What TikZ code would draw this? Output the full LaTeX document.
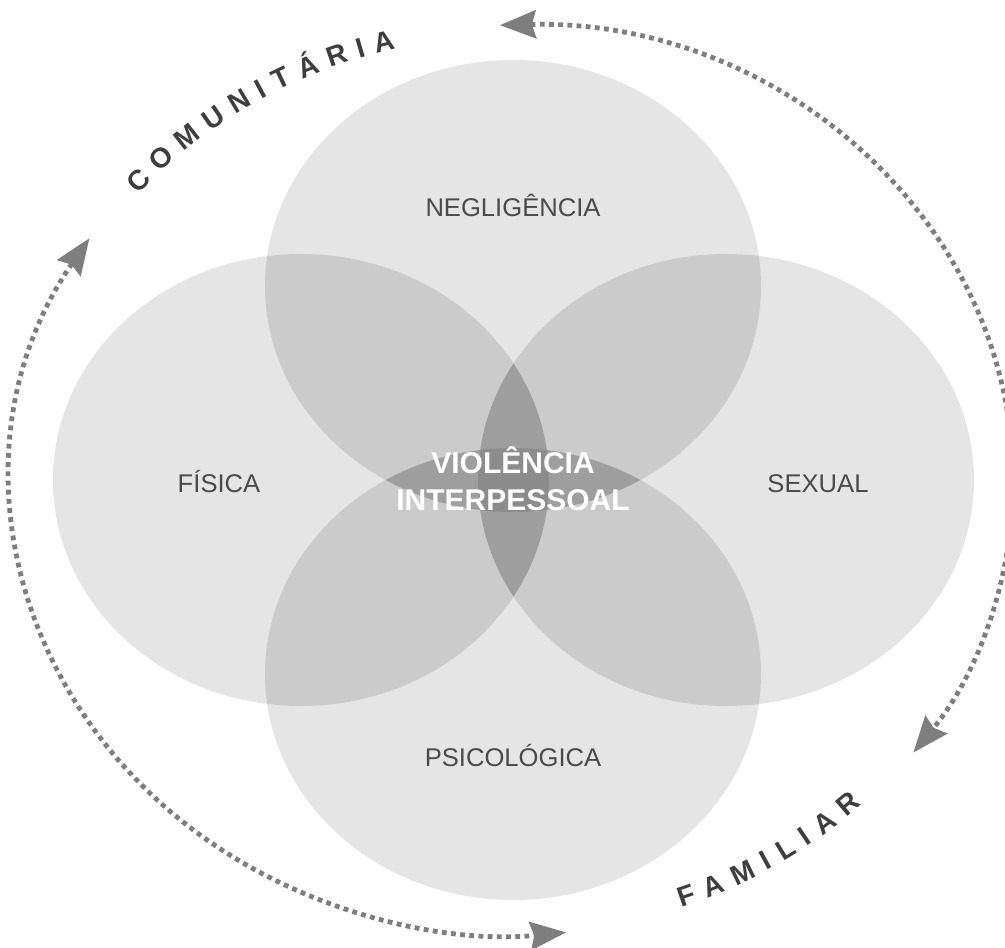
\documentclass[tikz,border=0pt]{standalone}
\usepackage{fontspec}
\setmainfont{Liberation Sans}
\usetikzlibrary{arrows.meta,decorations.text}
\definecolor{cone}{HTML}{E5E5E5}
\definecolor{ctwo}{HTML}{CBCBCB}
\definecolor{cthree}{HTML}{9E9E9E}
\definecolor{cfour}{HTML}{8C8C8C}
\definecolor{labelc}{HTML}{4A4A4A}
\definecolor{arcc}{HTML}{3E3E3E}
\definecolor{dotc}{HTML}{7E7E7E}
\newcommand\myarcfont{\bfseries\fontsize{14}{16}\selectfont}
\def\ETop{(0,194) ellipse [x radius=248, y radius=226]}
\def\EBot{(0,-194) ellipse [x radius=248, y radius=226]}
\def\ELft{(-212,0) ellipse [x radius=248, y radius=226]}
\def\ERgt{(213,0) ellipse [x radius=248, y radius=226]}
\begin{document}
\begin{tikzpicture}[x=0.5pt,y=0.5pt,
  lbl/.style={font=\fontsize{12.8}{15}\selectfont, text=labelc, anchor=base, inner sep=0pt},
  ctr/.style={font=\bfseries\fontsize{15}{17}\selectfont, text=white, anchor=base, inner sep=0pt},
  dotarc/.style={draw=dotc, line width=2.4pt, dash pattern=on 2.4pt off 2.2pt,
    {Stealth[length=18pt,width=14pt,inset=2pt,fill=dotc,color=dotc]}-{Stealth[length=18pt,width=14pt,inset=2pt,fill=dotc,color=dotc]}},
  arctext/.style={decorate, decoration={text along path, text color=arcc, text align={fit to path}}}
]
\useasboundingbox (-513,-467) rectangle (492,480);
\clip (-513,-467) rectangle (492,480);
% single
\fill[cone] \ETop; \fill[cone] \EBot; \fill[cone] \ELft; \fill[cone] \ERgt;
% double
\begin{scope}\clip \ETop; \fill[ctwo] \ELft; \fill[ctwo] \ERgt; \end{scope}
\begin{scope}\clip \EBot; \fill[ctwo] \ELft; \fill[ctwo] \ERgt; \end{scope}
% triple (lenses)
\begin{scope}\clip \ELft; \fill[cthree] \ERgt; \end{scope}
\begin{scope}\clip \ETop; \fill[cthree] \EBot; \end{scope}
% quadruple
\begin{scope}\clip \ELft; \clip \ERgt; \clip \ETop; \fill[cfour] \EBot; \end{scope}
% labels
\node[lbl] (neg) at (0,263) {NEGLIGÊNCIA};
\node[lbl] (fis) at (-294,-12) {FÍSICA};
\node[lbl] (sex) at (305,-12) {SEXUAL};
\node[lbl] (psi) at (0,-286) {PSICOLÓGICA};
\node[ctr] (vio) at (0,6) {VIOLÊNCIA};
\node[ctr] (inter) at (0,-31) {INTERPESSOAL};
% dotted arrows
\coordinate (ra) at (91.5:500 and 455);
\draw[dotarc] (ra) arc[start angle=91.5, end angle=-36.8, x radius=500, y radius=455];
\coordinate (la) at (147.9:500 and 455);
\draw[dotarc] (la) arc[start angle=147.9, end angle=276.1, x radius=500, y radius=455];
% curved texts
\coordinate (cs) at (140:489 and 444);
\path[arctext, decoration={text={|\myarcfont|COMUNITÁRIA}}] (cs) arc[start angle=140, end angle=103.8, x radius=489, y radius=444];
\coordinate (fs) at (-70.3:499 and 454);
\path[arctext, decoration={text={|\myarcfont|FAMILIAR}}] (fs) arc[start angle=-70.3, end angle=-45.6, x radius=499, y radius=454];
\end{tikzpicture}
\end{document}
